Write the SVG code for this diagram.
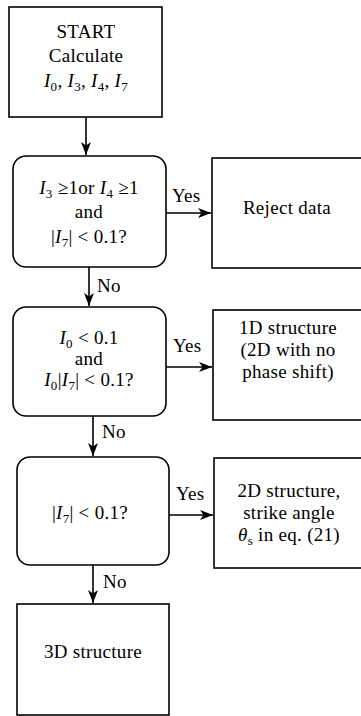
<svg xmlns="http://www.w3.org/2000/svg" width="361" height="716" viewBox="0 0 361 716">
<style>
.box{fill:#fff;stroke:#000;stroke-width:1.6}
.t{font-family:"Liberation Serif","Times New Roman",serif;font-size:19px;letter-spacing:0.3px;fill:#000;text-anchor:middle}
.l{font-family:"Liberation Serif","Times New Roman",serif;font-size:19px;letter-spacing:0.3px;fill:#000}
.i{font-style:italic}
.s{font-size:13px;font-style:normal}
.c{fill:none;stroke:#000;stroke-width:1.6}
</style>
<defs>
<marker id="ah" markerUnits="userSpaceOnUse" markerWidth="14" markerHeight="10" viewBox="0 0 14 10" refX="13" refY="5" orient="auto">
<path d="M0,0 L13,5 L0,10 L3.5,5 z" fill="#000"/>
</marker>
</defs>
<g id="start">
<rect class="box" x="9" y="7" width="153" height="110"/>
<text class="t" x="86" y="38">START</text>
<text class="t" x="86" y="62">Calculate</text>
<text class="t" x="86" y="87"><tspan class="i">I</tspan><tspan class="s" dy="4">0</tspan><tspan dy="-4">, </tspan><tspan class="i">I</tspan><tspan class="s" dy="4">3</tspan><tspan dy="-4">, </tspan><tspan class="i">I</tspan><tspan class="s" dy="4">4</tspan><tspan dy="-4">, </tspan><tspan class="i">I</tspan><tspan class="s" dy="4">7</tspan></text>
</g>
<g id="decision1">
<rect class="box" x="13" y="156" width="153" height="111" rx="13"/>
<text class="t" x="89" y="194"><tspan class="i">I</tspan><tspan class="s" dy="4">3</tspan><tspan dy="-4"> ≥1or </tspan><tspan class="i">I</tspan><tspan class="s" dy="4">4</tspan><tspan dy="-4"> ≥1</tspan></text>
<text class="t" x="89" y="218">and</text>
<text class="t" x="89" y="243">|<tspan class="i">I</tspan><tspan class="s" dy="4">7</tspan><tspan dy="-4">| &lt; 0.1?</tspan></text>
</g>
<g id="reject">
<rect class="box" x="212" y="158" width="155" height="110"/>
<text class="t" x="287" y="214">Reject data</text>
</g>
<g id="decision2">
<rect class="box" x="13" y="307" width="153" height="109" rx="13"/>
<text class="t" x="89" y="344"><tspan class="i">I</tspan><tspan class="s" dy="4">0</tspan><tspan dy="-4"> &lt; 0.1</tspan></text>
<text class="t" x="89" y="365">and</text>
<text class="t" x="89" y="386"><tspan class="i">I</tspan><tspan class="s" dy="4">0</tspan><tspan dy="-4">|</tspan><tspan class="i">I</tspan><tspan class="s" dy="4">7</tspan><tspan dy="-4">| &lt; 0.1?</tspan></text>
</g>
<g id="struct1d">
<rect class="box" x="213" y="310" width="154" height="110"/>
<text class="t" x="288" y="334">1D structure</text>
<text class="t" x="288" y="356">(2D with no</text>
<text class="t" x="288" y="378">phase shift)</text>
</g>
<g id="decision3">
<rect class="box" x="17" y="457" width="152" height="108" rx="13"/>
<text class="t" x="90" y="519">|<tspan class="i">I</tspan><tspan class="s" dy="4">7</tspan><tspan dy="-4">| &lt; 0.1?</tspan></text>
</g>
<g id="struct2d">
<rect class="box" x="214" y="458" width="153" height="110"/>
<text class="t" x="289" y="497">2D structure,</text>
<text class="t" x="289" y="519">strike angle</text>
<text class="t" x="289" y="541"><tspan class="i">θ</tspan><tspan class="s" dy="4">s</tspan><tspan dy="-4"> in eq. (21)</tspan></text>
</g>
<g id="struct3d">
<rect class="box" x="17" y="604" width="152" height="111"/>
<text class="t" x="93" y="658">3D structure</text>
</g>
<g id="connectors">
<line class="c" x1="86" y1="117" x2="86" y2="155" marker-end="url(#ah)"/>
<line class="c" x1="166" y1="213" x2="211" y2="213" marker-end="url(#ah)"/>
<text class="l" x="172" y="202">Yes</text>
<line class="c" x1="89" y1="267" x2="89" y2="306" marker-end="url(#ah)"/>
<text class="l" x="97" y="292">No</text>
<line class="c" x1="166" y1="367" x2="212" y2="367" marker-end="url(#ah)"/>
<text class="l" x="173" y="352">Yes</text>
<line class="c" x1="93" y1="416" x2="93" y2="456" marker-end="url(#ah)"/>
<text class="l" x="102" y="438">No</text>
<line class="c" x1="169" y1="515" x2="213" y2="515" marker-end="url(#ah)"/>
<text class="l" x="176" y="500">Yes</text>
<line class="c" x1="93" y1="565" x2="93" y2="603" marker-end="url(#ah)"/>
<text class="l" x="103" y="588">No</text>
</g>
</svg>
